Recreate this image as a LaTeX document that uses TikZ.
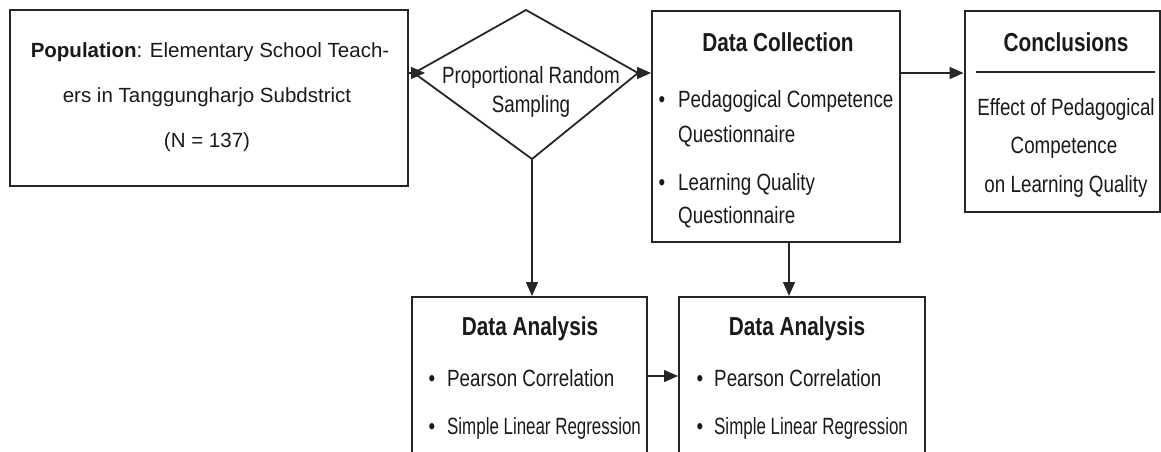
\documentclass[tikz,border=0pt]{standalone}
\usepackage{fontspec}
\setmainfont{Liberation Sans}
\newfontfamily\narrowfont[FakeStretch=0.8]{Liberation Sans}
\newfontfamily\narrowerfont[FakeStretch=0.72]{Liberation Sans}
\usetikzlibrary{arrows.meta}
\definecolor{ink}{HTML}{1A1A1A}
\definecolor{edge}{HTML}{262626}
\tikzset{
  box/.style={draw=edge, line width=2pt, rectangle, inner sep=0pt},
  arr/.style={draw=edge, line width=1.4pt, -{Triangle[length=14pt,width=12pt]}},
  poptext/.style={text=ink, inner sep=0pt, anchor=base, font=\fontsize{20.5}{24}\selectfont},
  body/.style={text=ink, inner sep=0pt, font=\narrowfont\fontsize{23.5}{27}\selectfont},
  title/.style={text=ink, inner sep=0pt, anchor=base, font=\narrowfont\bfseries\fontsize{26}{30}\selectfont},
  item/.style={body, anchor=base west},
  tightitem/.style={item, font=\narrowerfont\fontsize{23.5}{27}\selectfont},
  line/.style={body, anchor=base},
  dot/.style={body, anchor=base},
}
\begin{document}
\begin{tikzpicture}[x=1pt, y=-1pt]
  \useasboundingbox (0,0) rectangle (1161,452);
  \clip (0,0) rectangle (1161,452);
  \fill[white] (0,0) rectangle (1161,452);

  % population box
  \node[box, minimum width=398pt, minimum height=175pt] (pop) at (209,98) {};
  \node[poptext] (pop1) at (210,57) {\textbf{Population}: Elementary School Teach-};
  \node[poptext] (pop2) at (207,102) {ers in Tanggungharjo Subdstrict};
  \node[poptext] (pop3) at (207,147) {(N = 137)};

  % sampling decision
  \coordinate (dT) at (526,10);
  \coordinate (dR) at (638,73);
  \coordinate (dB) at (532,159);
  \coordinate (dL) at (414,73);
  \coordinate (dLin) at (425,73);
  \draw[draw=edge, line width=1.8pt, line join=miter] (dT) -- (dR) -- (dB) -- (dL) -- cycle;
  \node[line] (s1) at (531,83) {Proportional Random};
  \node[line] (s2) at (531,112) {Sampling};

  % data collection box
  \node[box, minimum width=248pt, minimum height=231pt] (dc) at (776,126.5) {};
  \node[title] (dct) at (778,52) {Data Collection};
  \node[dot] (b1) at (662,107) {\textbullet};
  \node[item] (q1) at (678,107) {Pedagogical Competence};
  \node[item] (q1b) at (678,142) {Questionnaire};
  \node[dot] (b2) at (662,190) {\textbullet};
  \node[item] (q2) at (678,190) {Learning Quality};
  \node[item] (q2b) at (678,223) {Questionnaire};

  % conclusions box
  \node[box, minimum width=195pt, minimum height=201pt] (con) at (1062,111.5) {};
  \node[title] (cont) at (1066,52) {Conclusions};
  \draw[draw=edge, line width=1.4pt] (976,72) -- (1155,72);
  \node[line] (c1) at (1066,115) {Effect of Pedagogical};
  \node[line] (c2) at (1064,153) {Competence};
  \node[line] (c3) at (1066,192) {on Learning Quality};

  % data analysis boxes (run past the lower edge)
  \node[box, minimum width=235pt, minimum height=180pt] (da1) at (529.5,387) {};
  \node[title] (da1t) at (530,335) {Data Analysis};
  \node[dot] (d1a) at (432,386) {\textbullet};
  \node[item] (d1p) at (447,386) {Pearson Correlation};
  \node[dot] (d1b) at (432,434) {\textbullet};
  \node[tightitem] (d1r) at (447,434) {Simple Linear Regression};

  \node[box, minimum width=246pt, minimum height=180pt] (da2) at (802,387) {};
  \node[title] (da2t) at (797,335) {Data Analysis};
  \node[dot] (d2a) at (700,386) {\textbullet};
  \node[item] (d2p) at (714,386) {Pearson Correlation};
  \node[dot] (d2b) at (700,434) {\textbullet};
  \node[tightitem] (d2r) at (714,434) {Simple Linear Regression};

  % connectors
  \draw[arr] (pop.east |- dL) -- (dLin);
  \draw[arr] (dR) -- (dc.west |- dR);
  \draw[arr] (dc.east |- dR) -- (con.west |- dR);
  \draw[arr] (dB) -- (da1.north -| dB);
  \draw[arr] (dc.south -| 789,0) -- (da2.north -| 789,0);
  \draw[arr] (da1.east |- 0,376) -- (da2.west |- 0,376);
\end{tikzpicture}
\end{document}
